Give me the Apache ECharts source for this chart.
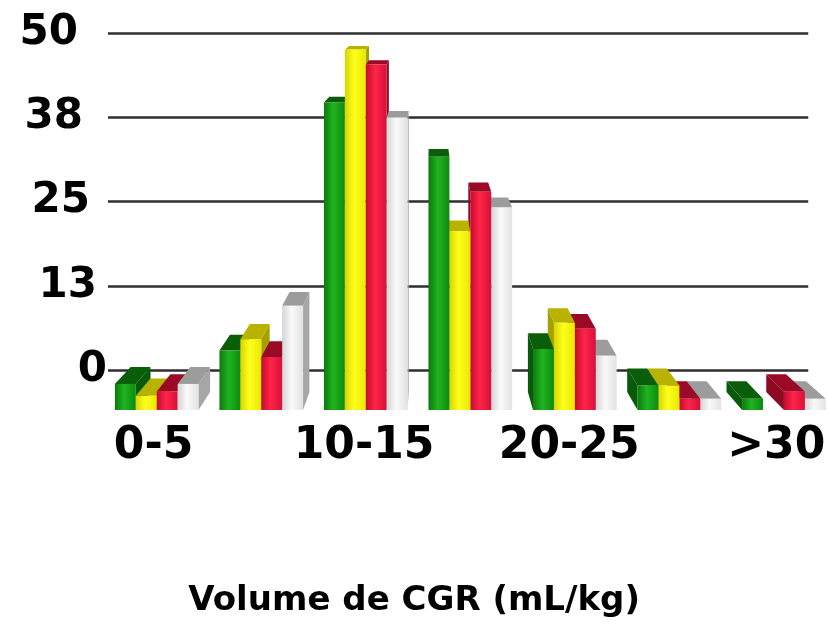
<!DOCTYPE html>
<html>
<head>
<meta charset="utf-8">
<script src="https://cdn.jsdelivr.net/npm/echarts@6/dist/echarts.min.js"></script>
<style>
  html, body { margin: 0; padding: 0; background: #ffffff; }
  #chart { width: 828px; height: 640px; }
</style>
</head>
<body>
<div id="chart"></div>
<script>
const categories = ['0-5', '5-10', '10-15', '15-20', '20-25', '25-30', '>30'];
const green = [3.5, 8, 41.3, 34, 8.2, 3.3, 1.5];
const yellow = [1.9, 9.5, 48.4, 24, 11.7, 3.3, 0];
const red = [2.5, 7.1, 46.4, 29.3, 10.9, 1.5, 2.5];
const white = [3.5, 14, 39.3, 27.2, 7.3, 1.5, 1.5];
const yLabels = ['0', '13', '25', '38', '50'];

// fake 3D: the value axis is the back wall, bars stand on a floor in front of it
const FLOOR = 40, SCALE = 1.105;
const FX0 = 187, SX = 1.045;
const VPX = 430, CX = 0.05, VPY = -40, CY = 0.04;

const palette = [
    { front: ['#0b7a0b', '#20b420', '#0d8a0d'], top: '#0a5e0a', side: '#075a07' },
    { front: ['#d6d600', '#ffff1e', '#e8e800'], top: '#b8b200', side: '#a5a000' },
    { front: ['#c40c2e', '#ff2448', '#d6103a'], top: '#9a0a26', side: '#8c0a22' },
    { front: ['#d4d4d4', '#fafafa', '#e2e2e2'], top: '#9c9c9c', side: '#a6a6a6' }
];

function back(x, y) {
    return [x + (VPX - x) * CX, y + (VPY - y) * CY];
}

function makeRender(s) {
    const col = palette[s];
    return function (params, api) {
        const cat = api.value(0), val = api.value(1);
        if (!val) return;
        const top = api.coord([cat, val]);
        const zero = api.coord([cat, 0]);
        const band = api.size([1, 0])[0];
        const base = zero[1] + FLOOR;
        const yf = base - (zero[1] - top[1]) * SCALE;
        const fc = FX0 + (top[0] - FX0) * SX;
        const w = band * 0.2 * SX;
        const x0 = fc - 2 * w + s * w;
        const x1 = x0 + w;
        const toRight = fc < VPX;
        const z = toRight ? s * 3 : (3 - s) * 3;
        const sx = toRight ? x1 : x0;
        return {
            type: 'group',
            children: [{
                type: 'polygon',
                z2: z,
                shape: { points: [[sx, yf], back(sx, yf), back(sx, base), [sx, base]] },
                style: { fill: col.side }
            }, {
                type: 'polygon',
                z2: z,
                shape: { points: [[x0, yf], [x1, yf], back(x1, yf), back(x0, yf)] },
                style: { fill: col.top }
            }, {
                type: 'rect',
                z2: z + 1,
                shape: { x: x0, y: yf, width: w, height: base - yf },
                style: {
                    fill: {
                        type: 'linear', x: 0, y: 0, x2: 1, y2: 0,
                        colorStops: [
                            { offset: 0, color: col.front[0] },
                            { offset: 0.45, color: col.front[1] },
                            { offset: 1, color: col.front[2] }
                        ]
                    }
                }
            }]
        };
    };
}

function seriesOf(arr, s) {
    return {
        type: 'custom',
        clip: false,
        renderItem: makeRender(s),
        encode: { x: 0, y: 1 },
        data: arr.map((v, i) => [i, v])
    };
}

const chart = echarts.init(document.getElementById('chart'));
chart.setOption({
    backgroundColor: '#ffffff',
    animation: false,
    grid: { left: 108, right: 16, top: 33, bottom: 270 },
    xAxis: {
        type: 'category',
        data: categories,
        axisLine: { show: false },
        axisTick: { show: false },
        axisLabel: {
            interval: 1,
            margin: 55,
            color: '#000',
            fontFamily: 'DejaVu Sans',
            fontWeight: 'bold',
            fontSize: 44,
            formatter: function (v, i) {
                return '{p' + i + '|' + v + '}';
            },
            rich: {
                p0: { padding: [0, 9, 0, 0] },
                p2: { padding: [0, 0, 0, 12] },
                p4: { padding: [0, 0, 0, 22] },
                p6: { padding: [0, 0, 0, 36] }
            }
        },
        name: 'Volume de CGR (mL/kg)',
        nameLocation: 'middle',
        nameGap: 214,
        nameTextStyle: {
            color: '#000',
            fontFamily: 'DejaVu Sans',
            fontWeight: 'bold',
            fontSize: 34,
            padding: [0, 88, 0, 0]
        }
    },
    yAxis: {
        type: 'value',
        min: 0,
        max: 50,
        interval: 12.5,
        axisLine: { show: false },
        axisTick: { show: false },
        splitLine: { lineStyle: { color: '#2e2e2e', width: 2.5 } },
        axisLabel: {
            margin: 1,
            color: '#000',
            fontFamily: 'DejaVu Sans',
            fontWeight: 'bold',
            fontSize: 42,
            formatter: function (v) {
                const i = Math.round(v / 12.5);
                return '{r' + i + '|' + yLabels[i] + '}';
            },
            rich: {
                r0: { padding: [0, 0, 0, 0] },
                r1: { padding: [0, 10, 0, 0] },
                r2: { padding: [0, 17, 0, 0] },
                r3: { padding: [0, 24, 0, 0] },
                r4: { padding: [0, 29, 0, 0] }
            }
        }
    },
    series: [seriesOf(green, 0), seriesOf(yellow, 1), seriesOf(red, 2), seriesOf(white, 3)]
});
</script>
</body>
</html>
